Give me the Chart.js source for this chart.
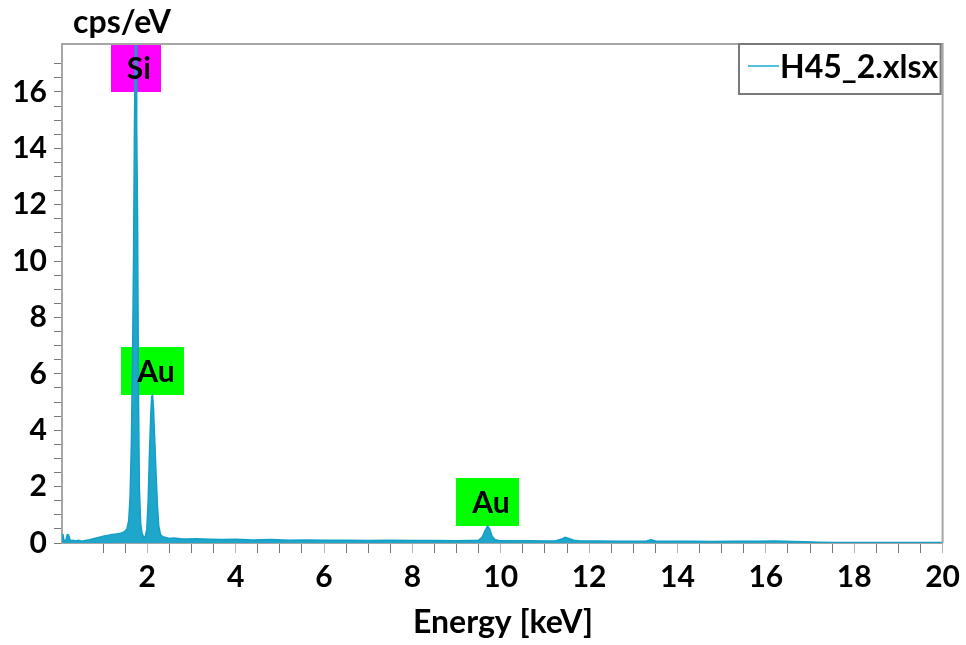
<!DOCTYPE html>
<html>
<head>
<meta charset="utf-8">
<script src="https://cdn.jsdelivr.net/npm/chart.js"></script>
<style>
  body { margin: 0; background: #ffffff; }
  #wrap { width: 966px; height: 645px; }
</style>
</head>
<body>
<div id="wrap"><canvas id="spectrum" width="966" height="645"></canvas></div>
<script>
/* --------------- Spectrum data (energy in keV, intensity in cps/eV) --------------------- */
const energy = [0.07, 0.09, 0.11, 0.13, 0.16, 0.19, 0.22, 0.25, 0.28, 0.32, 0.38, 0.45, 0.52, 0.6, 0.7, 0.8, 0.9, 1.0,
    1.1, 1.2, 1.3, 1.4, 1.48, 1.54, 1.58, 1.61, 1.64, 1.67, 1.69, 1.71, 1.73, 1.745, 1.76, 1.78, 1.8, 1.82, 1.85,
    1.88, 1.92, 1.96, 1.99, 2.02, 2.05, 2.08, 2.1, 2.12, 2.14, 2.17, 2.2, 2.23, 2.26, 2.3, 2.35, 2.42, 2.5, 2.6,
    2.75, 2.9, 3.1, 3.4, 3.7, 4.0, 4.4, 4.8, 5.2, 5.6, 6.0, 6.5, 7.0, 7.5, 8.0, 8.5, 9.0, 9.3, 9.5, 9.58, 9.64,
    9.7, 9.75, 9.8, 9.87, 9.96, 10.2, 10.6, 11.0, 11.25, 11.38, 11.46, 11.54, 11.65, 11.8, 12.2, 12.6, 13.0, 13.3,
    13.4, 13.5, 13.8, 14.3, 14.8, 15.3, 15.8, 16.2, 16.6, 16.9, 17.2, 17.6, 18.2, 19.0, 20.0];
const cps = [0.18, 0.32, 0.12, 0.08, 0.1, 0.3, 0.28, 0.12, 0.08, 0.1, 0.07, 0.1, 0.06, 0.09, 0.12, 0.16, 0.2, 0.24,
    0.27, 0.3, 0.32, 0.35, 0.4, 0.5, 0.8, 1.6, 3.5, 7.0, 10.2, 14.8, 17.7, 17.7, 14.8, 11.5, 5.5, 2.0, 0.7,
    0.35, 0.2, 0.25, 0.5, 1.5, 3.2, 4.6, 5.2, 5.25, 4.8, 3.6, 2.4, 1.3, 0.6, 0.3, 0.22, 0.2, 0.16, 0.18,
    0.15, 0.14, 0.15, 0.13, 0.12, 0.13, 0.11, 0.12, 0.1, 0.11, 0.1, 0.1, 0.09, 0.1, 0.09, 0.09, 0.08, 0.09, 0.1, 0.2, 0.42,
    0.6, 0.5, 0.25, 0.12, 0.09, 0.08, 0.08, 0.07, 0.08, 0.14, 0.2, 0.16, 0.1, 0.07, 0.07, 0.06, 0.06, 0.07,
    0.11, 0.07, 0.06, 0.06, 0.05, 0.06, 0.06, 0.07, 0.05, 0.04, 0.03, 0.02, 0.02, 0.02, 0.02];

/* --------------- Peak labels --------------------- */
const peakNames = ["Si", "Au", "Au"];
const peakEnergies = [1.74, 2.13, 9.71];
const peakLevels = [16.0, 5.25, 0.6];
const peakColors = ["#ff00ff", "#00ff00", "#00ff00"];

const seriesName = "H45_2.xlsx";
const xTitle = "Energy [keV]";
const yTitle = "cps/eV";

const FONT = "Lato, Carlito, Calibri, sans-serif";
const AXIS_GREY = "#a6a6a6";

const onStep = (v, step) => Math.abs(v / step - Math.round(v / step)) < 1e-6;

/* --------------- Frame, titles, legend and peak boxes --------------------- */
const decorations = {
    id: "decorations",
    beforeDatasetsDraw(chart) {
        const { ctx, scales: { x, y } } = chart;
        ctx.save();
        ctx.font = "bold 30px " + FONT;
        peakNames.forEach((name, i) => {
            const w = ctx.measureText(name).width + 26;
            const cx = x.getPixelForValue(peakEnergies[i]);
            const bottom = y.getPixelForValue(peakLevels[i]);
            ctx.fillStyle = peakColors[i];
            ctx.fillRect(Math.round(cx - w / 2), Math.round(bottom - 48), Math.round(w), 48);
        });
        ctx.restore();
    },
    afterDatasetsDraw(chart) {
        const { ctx, chartArea: a, scales: { x, y } } = chart;
        ctx.save();
        // peak text
        ctx.font = "bold 30px " + FONT;
        ctx.fillStyle = "#000";
        ctx.textAlign = "center";
        ctx.textBaseline = "middle";
        peakNames.forEach((name, i) => {
            const cx = x.getPixelForValue(peakEnergies[i]);
            const bottom = y.getPixelForValue(peakLevels[i]);
            ctx.fillText(name, cx + 3, bottom - 23);
        });
        // top and right frame
        ctx.strokeStyle = AXIS_GREY;
        ctx.lineWidth = 2;
        ctx.beginPath();
        ctx.moveTo(a.left, a.top);
        ctx.lineTo(a.right, a.top);
        ctx.lineTo(a.right, a.bottom);
        ctx.stroke();
        // legend
        const lx = 739, ly = a.top, lw = a.right - 741, lh = 50;
        ctx.fillStyle = "#fff";
        ctx.fillRect(lx, ly, lw, lh);
        ctx.strokeStyle = "#7a7a7a";
        ctx.strokeRect(lx, ly, lw, lh);
        ctx.strokeStyle = "#4fc1dc";
        ctx.lineWidth = 2;
        ctx.beginPath();
        ctx.moveTo(lx + 9, ly + 22);
        ctx.lineTo(lx + 40, ly + 22);
        ctx.stroke();
        ctx.fillStyle = "#000";
        ctx.font = "bold 32px " + FONT;
        ctx.textAlign = "left";
        ctx.textBaseline = "alphabetic";
        ctx.fillText(seriesName, lx + 41, ly + 34);
        // axis titles
        ctx.font = "bold 32px " + FONT;
        ctx.textAlign = "center";
        ctx.fillText(yTitle, 122, 33);
        ctx.fillText(xTitle, 503, 633);
        ctx.restore();
    },
};

/* --------------- Chart --------------------- */
const spectrumChart = new Chart(document.getElementById("spectrum"), {
    type: "line",
    plugins: [decorations],
    data: {
        datasets: [
            {
                label: seriesName,
                data: energy.map((e, i) => ({ x: e, y: cps[i] })),
                borderColor: "#139fc6",
                backgroundColor: "#1ea6cb",
                borderWidth: 1.5,
                fill: "origin",
                pointRadius: 0,
                tension: 0,
            },
        ],
    },
    options: {
        responsive: false,
        animation: false,
        layout: { padding: { top: 44, right: 21, left: 0, bottom: 0 } },
        plugins: {
            legend: { display: false },
            tooltip: { enabled: false },
        },
        scales: {
            x: {
                type: "linear",
                min: 0.07,
                max: 20,
                afterFit: (scale) => { scale.height = 102; },
                afterBuildTicks: (scale) => {
                    scale.ticks = scale.ticks.filter((t) => onStep(t.value, 0.5));
                },
                ticks: {
                    stepSize: 0.5,
                    autoSkip: false,
                    maxRotation: 0,
                    padding: 6,
                    color: "#000",
                    font: { family: FONT, size: 30, weight: "bold" },
                    callback: (v) => (onStep(v, 2) ? String(Math.round(v)) : ""),
                },
                grid: {
                    drawOnChartArea: false,
                    drawTicks: true,
                    tickLength: 10,
                    color: (c) => (c.tick && onStep(c.tick.value, 2) ? "#b5b5b5" : "#777"),
                },
                border: { display: true, color: AXIS_GREY, width: 2 },
            },
            y: {
                min: 0,
                max: 17.7,
                afterFit: (scale) => { scale.width = 62; },
                afterBuildTicks: (scale) => {
                    scale.ticks = scale.ticks.filter((t) => onStep(t.value, 0.5));
                },
                ticks: {
                    stepSize: 0.5,
                    autoSkip: false,
                    padding: 7,
                    color: "#000",
                    font: { family: FONT, size: 30, weight: "bold" },
                    callback: (v) => (onStep(v, 2) ? String(Math.round(v)) : ""),
                },
                grid: {
                    drawOnChartArea: false,
                    drawTicks: true,
                    tickLength: 8,
                    color: "#777",
                },
                border: { display: true, color: AXIS_GREY, width: 2 },
            },
        },
    },
});
</script>
</body>
</html>
